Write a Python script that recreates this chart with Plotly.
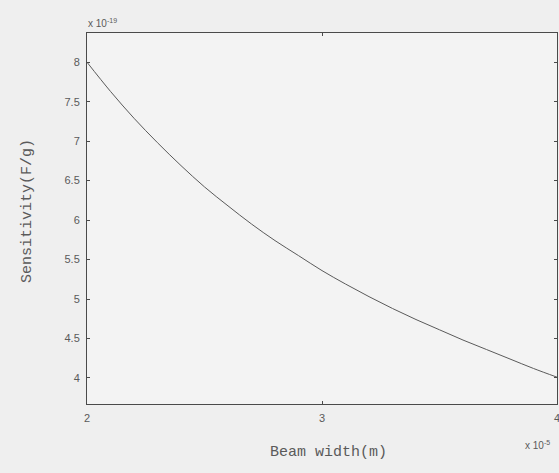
import plotly.graph_objects as go

# Beam width (x 1e-5 m) and sensitivity (x 1e-19 F/g)
beam_width = [2.0, 2.1, 2.2, 2.3, 2.4, 2.5, 2.6, 2.7, 2.8, 2.9, 3.0,
              3.1, 3.2, 3.3, 3.4, 3.5, 3.6, 3.7, 3.8, 3.9, 4.0]
sensitivity = [8.00, 7.63, 7.29, 6.98, 6.69, 6.42, 6.18, 5.95, 5.74, 5.55, 5.36,
               5.19, 5.03, 4.88, 4.74, 4.61, 4.48, 4.36, 4.24, 4.12, 4.01]

x_ticks = [2, 3, 4]
x_tick_text = ["2", "3", "4"]
y_ticks = [4, 4.5, 5, 5.5, 6, 6.5, 7, 7.5, 8]
y_tick_text = ["4", "4.5", "5", "5.5", "6", "6.5", "7", "7.5", "8"]

axis_col = "#4a4a4a"
text_col = "#5a5a5a"

fig = go.Figure()
fig.add_trace(go.Scatter(x=beam_width, y=sensitivity, mode="lines",
                         line=dict(color="#5a5a5a", width=1, shape="spline"),
                         showlegend=False, hoverinfo="skip"))

tick_font = dict(family="Liberation Sans", size=11, color=text_col)
fig.update_layout(
    width=559, height=473,
    margin=dict(l=87, r=2, t=33, b=69, autoexpand=False),
    paper_bgcolor="#efefef", plot_bgcolor="#f3f3f3",
    xaxis=dict(range=[2, 4], tickvals=x_ticks, ticktext=x_tick_text,
               ticks="inside", ticklen=3, tickcolor=axis_col,
               showline=True, linecolor=axis_col, linewidth=1, mirror="ticks",
               showgrid=False, zeroline=False, tickfont=tick_font,
               ticklabelstandoff=4, ticklabeloverflow="allow",
               automargin=False),
    yaxis=dict(range=[3.67, 8.37], tickvals=y_ticks, ticktext=y_tick_text,
               ticks="inside", ticklen=3, tickcolor=axis_col,
               showline=True, linecolor=axis_col, linewidth=1, mirror="ticks",
               showgrid=False, zeroline=False, tickfont=tick_font,
               ticklabelstandoff=4, automargin=False),
)

title_font = dict(family="Liberation Mono", size=15, color=text_col)
fig.add_annotation(text="Beam width(m)", xref="paper", yref="paper",
                   x=0.513, y=-0.13, xanchor="center", yanchor="middle",
                   showarrow=False, font=title_font)
fig.add_annotation(text="Sensitivity(F/g)", xref="paper", yref="paper",
                   x=-0.128, y=0.52, xanchor="center", yanchor="middle",
                   textangle=-90, showarrow=False, font=title_font)
exp_font = dict(family="Liberation Sans", size=10, color=text_col)
fig.add_annotation(text="x 10<sup>-19</sup>", xref="paper", yref="paper",
                   x=-0.003, y=1.005, xanchor="left", yanchor="bottom",
                   showarrow=False, font=exp_font)
fig.add_annotation(text="x 10<sup>-5</sup>", xref="paper", yref="paper",
                   x=0.928, y=-0.11, xanchor="left", yanchor="middle",
                   showarrow=False, font=exp_font)

fig.write_html("out.html")
